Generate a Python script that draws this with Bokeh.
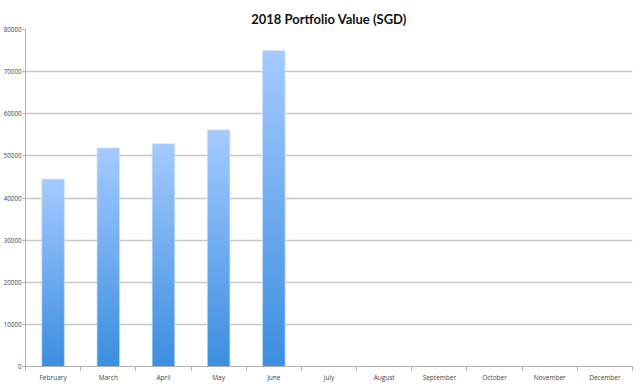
import numpy as np
from bokeh.plotting import figure
from bokeh.models import FixedTicker, Range1d, BasicTickFormatter
from bokeh.embed import file_html
from bokeh.resources import INLINE

months = ["February", "March", "April", "May", "June", "July",
          "August", "September", "October", "November", "December"]
values = [44500, 51900, 52900, 56200, 75000, None, None, None, None, None, None]
y_ticks = [0, 10000, 20000, 30000, 40000, 50000, 60000, 70000, 80000]

top_rgb = np.array([164, 201, 255])
bot_rgb = np.array([58, 142, 223])
n_seg = 60

p = figure(width=640, height=384, output_backend="svg", toolbar_location=None,
           x_range=Range1d(0, len(months)), y_range=Range1d(0, 80000),
           title="2018 Portfolio Value (SGD)",
           min_border_left=24, min_border_right=8, min_border_top=29, min_border_bottom=14)

p.background_fill_color = "white"
p.border_fill_color = "white"
p.outline_line_color = None

# gradient bars built from the data: each bar split into overlapping thin slices
xs, bottoms, tops, colors = [], [], [], []
for i, v in enumerate(values):
    if v is None:
        continue
    edges = np.linspace(0, v, n_seg + 1)
    step = v / n_seg
    for k in range(n_seg):
        t = (k + 0.5) / n_seg
        c = bot_rgb + (top_rgb - bot_rgb) * t
        xs.append(i + 0.5)
        bottoms.append(edges[k] - (0.6 * step if k > 0 else 0))
        tops.append(edges[k + 1])
        colors.append("#%02x%02x%02x" % tuple(int(round(x)) for x in c))

p.vbar(x=xs, bottom=bottoms, top=tops, width=0.41, fill_color=colors, line_color=None)

# subtle light outline around each bar
bx = [i + 0.5 for i, v in enumerate(values) if v is not None]
bt = [v for v in values if v is not None]
p.vbar(x=bx, top=bt, bottom=0, width=0.41, fill_color=None,
       line_color="#dce8fb", line_width=1, line_alpha=0.7)

# title
p.title.align = "center"
p.title.text_font = "Lato"
p.title.text_font_size = "13px"
p.title.text_font_style = "bold"
p.title.text_color = "#111111"
p.title.standoff = 6

# x axis: labels at centres, ticks at boundaries
p.xaxis.ticker = FixedTicker(ticks=[i + 0.5 for i in range(len(months))],
                             minor_ticks=list(range(len(months) + 1)))
p.xaxis.major_label_overrides = {i + 0.5: m for i, m in enumerate(months)}
p.xaxis.major_tick_out = 0
p.xaxis.major_tick_in = 0
p.xaxis.minor_tick_out = 4
p.xaxis.minor_tick_in = 0
p.xaxis.minor_tick_line_color = "#b0b0b0"
p.xaxis.axis_line_color = "#b0b0b0"
p.xaxis.major_label_text_font = "Open Sans"
p.xaxis.major_label_text_font_size = "6.5px"
p.xaxis.major_label_text_color = "#444444"
p.xaxis.major_label_standoff = 2

# y axis
p.yaxis.ticker = FixedTicker(ticks=y_ticks, minor_ticks=[])
p.yaxis.formatter = BasicTickFormatter(use_scientific=False)
p.yaxis.major_tick_out = 3
p.yaxis.major_tick_in = 0
p.yaxis.major_tick_line_color = "#b0b0b0"
p.yaxis.axis_line_color = "#b0b0b0"
p.yaxis.major_label_text_font = "Open Sans"
p.yaxis.major_label_text_font_size = "6.2px"
p.yaxis.major_label_text_color = "#444444"
p.yaxis.major_label_standoff = 1

p.xgrid.grid_line_color = None
p.ygrid.ticker = FixedTicker(ticks=y_ticks)
p.ygrid.grid_line_color = "#c8c8c8"
p.ygrid.grid_line_width = 1.5

open("out.html", "w").write(file_html(p, INLINE))
